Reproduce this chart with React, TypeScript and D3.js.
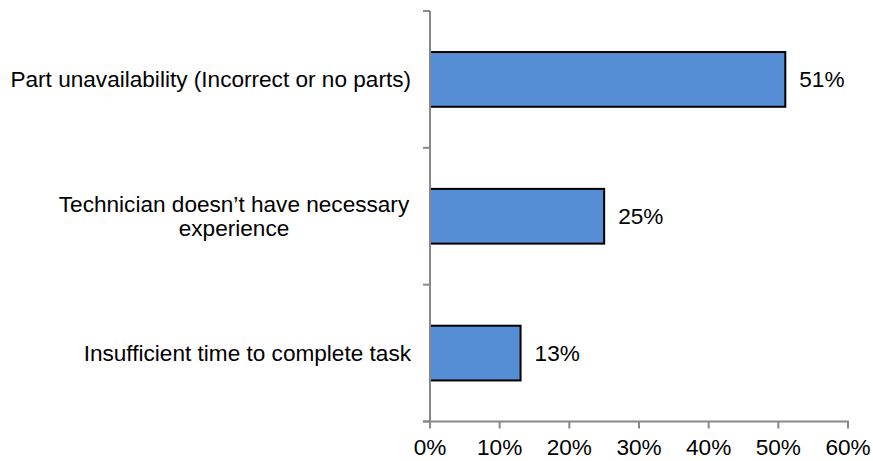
import React from "react";
import * as d3 from "d3";

const categories: string[][] = [
  ["Part unavailability (Incorrect or no parts)"],
  ["Technician doesn\u2019t have necessary", "experience"],
  ["Insufficient time to complete task"],
];
const values: number[] = [0.51, 0.25, 0.13];
const xTicks: number[] = [0, 0.1, 0.2, 0.3, 0.4, 0.5, 0.6];

const W = 873;
const H = 461;
const left = 430;
const right = 848;
const top = 11;
const bottom = 421.5;
const font = "'Liberation Sans', Arial, sans-serif";
const axisColor = "#888888";
const fs = 22.6;

export default function App() {
  const x = d3.scaleLinear().domain([0, 0.6]).range([left, right]);
  const ids = categories.map((_, i) => String(i));
  const y = d3
    .scaleBand<string>()
    .domain(ids)
    .range([top, bottom])
    .paddingInner(0.6)
    .paddingOuter(0.3);
  const step = y.step();
  const yTicks = d3.range(categories.length + 1).map((i) => top + i * step);
  const fmt = d3.format(".0%");

  return (
    <svg
      width={W}
      height={H}
      style={{ position: "absolute", left: 0, top: 0, background: "#fff" }}
      fontFamily={font}
    >
      {values.map((v, i) => (
        <g key={i}>
          <rect
            x={x(0)}
            y={y(ids[i])}
            width={x(v) - x(0)}
            height={y.bandwidth()}
            fill="#558ED5"
            stroke="#000"
            strokeWidth={2}
          />
          <text
            x={x(v) + 14}
            y={(y(ids[i]) as number) + y.bandwidth() / 2}
            dy="0.35em"
            fontSize={fs}
            fill="#000"
          >
            {fmt(v)}
          </text>
        </g>
      ))}
      <line x1={left} x2={left} y1={top} y2={bottom} stroke={axisColor} strokeWidth={2} />
      {yTicks.map((t, i) => (
        <line key={i} x1={left - 7} x2={left} y1={t} y2={t} stroke={axisColor} strokeWidth={2} />
      ))}
      <line x1={left - 7} x2={right + 1} y1={bottom} y2={bottom} stroke={axisColor} strokeWidth={2} />
      {xTicks.map((t, i) => (
        <g key={i}>
          <line x1={x(t)} x2={x(t)} y1={bottom} y2={bottom + 7} stroke={axisColor} strokeWidth={2} />
          <text x={x(t)} y={bottom + 33} textAnchor="middle" fontSize={fs} fill="#000">
            {fmt(t)}
          </text>
        </g>
      ))}
      {categories.map((lines, i) => {
        const cy = (y(ids[i]) as number) + y.bandwidth() / 2;
        const lh = 24;
        if (lines.length === 1) {
          return (
            <text key={i} x={411} y={cy} dy="0.35em" textAnchor="end" fontSize={fs} fill="#000">
              {lines[0]}
            </text>
          );
        }
        return (
          <text key={i} x={234} textAnchor="middle" fontSize={fs} fill="#000">
            {lines.map((l, j) => (
              <tspan key={j} x={234} y={cy - ((lines.length - 1) * lh) / 2 + j * lh} dy="0.35em">
                {l}
              </tspan>
            ))}
          </text>
        );
      })}
    </svg>
  );
}
